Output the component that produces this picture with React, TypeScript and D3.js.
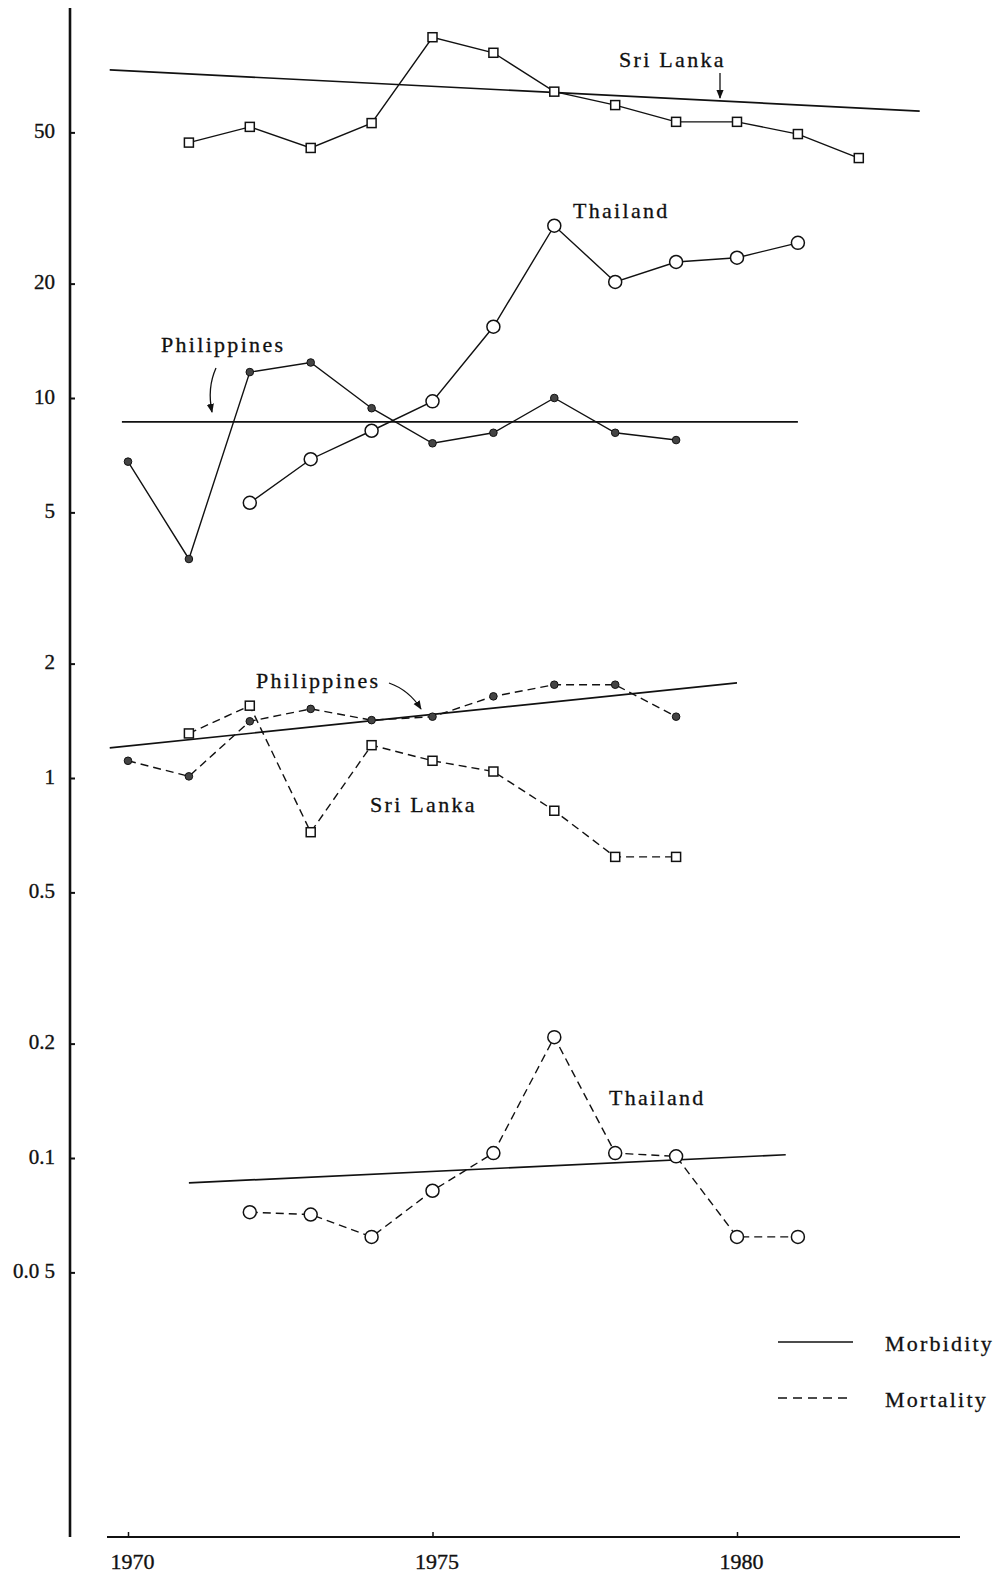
import React, { useEffect, useRef } from "react";
import * as d3 from "d3";

// morbidity (solid lines)
const sriLankaMorbYears = [1971, 1972, 1973, 1974, 1975, 1976, 1977, 1978, 1979, 1980, 1981, 1982];
const sriLankaMorb = [47, 51.7, 45.5, 52.9, 89, 81, 64, 59, 53.3, 53.3, 49.5, 42.8];

const thailandMorbYears = [1972, 1973, 1974, 1975, 1976, 1977, 1978, 1979, 1980, 1981];
const thailandMorb = [5.3, 6.9, 8.2, 9.8, 15.4, 28.4, 20.2, 22.8, 23.4, 25.6];

const philippinesMorbYears = [1970, 1971, 1972, 1973, 1974, 1975, 1976, 1977, 1978, 1979];
const philippinesMorb = [6.8, 3.77, 11.7, 12.4, 9.4, 7.6, 8.1, 10.0, 8.1, 7.75];

// mortality (dashed lines)
const philippinesMortYears = [1970, 1971, 1972, 1973, 1974, 1975, 1976, 1977, 1978, 1979];
const philippinesMort = [1.11, 1.01, 1.41, 1.52, 1.42, 1.45, 1.64, 1.76, 1.76, 1.45];

const sriLankaMortYears = [1971, 1972, 1973, 1974, 1975, 1976, 1977, 1978, 1979];
const sriLankaMort = [1.31, 1.55, 0.72, 1.22, 1.11, 1.04, 0.82, 0.62, 0.62];

const thailandMortYears = [1972, 1973, 1974, 1975, 1976, 1977, 1978, 1979, 1980, 1981];
const thailandMort = [0.072, 0.071, 0.062, 0.082, 0.103, 0.208, 0.103, 0.101, 0.062, 0.062];

// fitted trend lines (end points)
const sriLankaMorbTrendYears = [1969.7, 1983];
const sriLankaMorbTrend = [73, 56.9];
const philippinesMorbTrendYears = [1969.9, 1981];
const philippinesMorbTrend = [8.65, 8.65];
const philippinesMortTrendYears = [1969.7, 1980];
const philippinesMortTrend = [1.2, 1.78];
const thailandMortTrendYears = [1971, 1980.8];
const thailandMortTrend = [0.086, 0.102];

// axes
const yTicks = [50, 20, 10, 5, 2, 1, 0.5, 0.2, 0.1, 0.05];
const yTickLabels = ["50", "20", "10", "5", "2", "1", "0.5", "0.2", "0.1", "0.0 5"];
const xTicks = [1970, 1975, 1980];

const FONT = "'Liberation Serif', 'DejaVu Serif', serif";

const zip = (xs, ys) => xs.map((d, i) => [d, ys[i]]);

const App = () => {
  const svgRef = useRef(null);

  useEffect(() => {
    const svg = d3.select(svgRef.current);
    svg.selectAll("*").remove();

    const width = 1002;
    const height = 1581;

    svg.append("rect").attr("width", width).attr("height", height).attr("fill", "#fff");

    // scales
    const x = d3.scaleLinear().domain([1970, 1980]).range([128, 737]);
    const y = d3.scaleLog().domain([0.1, 10]).range([1158, 398]);

    const axisX = 70;
    const axisY = 1537;

    // y axis
    svg
      .append("line")
      .attr("x1", axisX)
      .attr("x2", axisX)
      .attr("y1", 8)
      .attr("y2", axisY)
      .attr("stroke", "#111")
      .attr("stroke-width", 2.6);

    const yAxis = d3
      .axisLeft(y)
      .tickValues(yTicks)
      .tickFormat((d, i) => yTickLabels[i])
      .tickSizeInner(-5)
      .tickSizeOuter(0)
      .tickPadding(15);
    const gy = svg.append("g").attr("transform", `translate(${axisX},0)`).call(yAxis);
    gy.select(".domain").remove();
    gy.selectAll(".tick line").attr("stroke", "#111").attr("stroke-width", 2);
    gy.selectAll(".tick text")
      .attr("font-family", FONT)
      .attr("font-size", 21)
      .attr("fill", "#111")
      .attr("stroke", "#111")
      .attr("stroke-width", 0.35)
      .attr("dy", "0.25em");

    // x axis
    svg
      .append("line")
      .attr("x1", 107)
      .attr("x2", 960)
      .attr("y1", axisY)
      .attr("y2", axisY)
      .attr("stroke", "#111")
      .attr("stroke-width", 2);

    const xAxis = d3
      .axisBottom(x)
      .tickValues(xTicks)
      .tickFormat(d3.format("d"))
      .tickSizeInner(-5)
      .tickSizeOuter(0)
      .tickPadding(16);
    const gx = svg.append("g").attr("transform", `translate(0,${axisY})`).call(xAxis);
    gx.select(".domain").remove();
    gx.selectAll(".tick line").attr("stroke", "#111").attr("stroke-width", 1.5);
    gx.selectAll(".tick text")
      .attr("font-family", FONT)
      .attr("font-size", 22)
      .attr("fill", "#111")
      .attr("stroke", "#111")
      .attr("stroke-width", 0.35)
      .attr("dx", 4);

    const line = d3
      .line()
      .x((d) => x(d[0]))
      .y((d) => y(d[1]));

    // trend lines
    const trends = [
      zip(sriLankaMorbTrendYears, sriLankaMorbTrend),
      zip(philippinesMorbTrendYears, philippinesMorbTrend),
      zip(philippinesMortTrendYears, philippinesMortTrend),
      zip(thailandMortTrendYears, thailandMortTrend),
    ];
    svg
      .selectAll(".trend")
      .data(trends)
      .join("path")
      .attr("class", "trend")
      .attr("d", line)
      .attr("fill", "none")
      .attr("stroke", "#111")
      .attr("stroke-width", 1.7);

    const series = [
      { pts: zip(sriLankaMorbYears, sriLankaMorb), marker: "square", dash: null },
      { pts: zip(thailandMorbYears, thailandMorb), marker: "circle", dash: null },
      { pts: zip(philippinesMorbYears, philippinesMorb), marker: "dot", dash: null },
      { pts: zip(philippinesMortYears, philippinesMort), marker: "dot", dash: "8,5" },
      { pts: zip(sriLankaMortYears, sriLankaMort), marker: "square", dash: "8,5" },
      { pts: zip(thailandMortYears, thailandMort), marker: "circle", dash: "8,5" },
    ];

    series.forEach((s) => {
      svg
        .append("path")
        .attr("d", line(s.pts))
        .attr("fill", "none")
        .attr("stroke", "#111")
        .attr("stroke-width", 1.4)
        .attr("stroke-dasharray", s.dash);
    });

    series.forEach((s) => {
      const g = svg.append("g");
      if (s.marker === "square") {
        g.selectAll("rect")
          .data(s.pts)
          .join("rect")
          .attr("x", (d) => x(d[0]) - 4.5)
          .attr("y", (d) => y(d[1]) - 4.5)
          .attr("width", 9)
          .attr("height", 9)
          .attr("fill", "#fff")
          .attr("stroke", "#111")
          .attr("stroke-width", 1.5);
      } else if (s.marker === "circle") {
        g.selectAll("circle")
          .data(s.pts)
          .join("circle")
          .attr("cx", (d) => x(d[0]))
          .attr("cy", (d) => y(d[1]))
          .attr("r", 6.5)
          .attr("fill", "#fff")
          .attr("stroke", "#111")
          .attr("stroke-width", 1.5);
      } else {
        g.selectAll("circle")
          .data(s.pts)
          .join("circle")
          .attr("cx", (d) => x(d[0]))
          .attr("cy", (d) => y(d[1]))
          .attr("r", 3.8)
          .attr("fill", "#444")
          .attr("stroke", "#111")
          .attr("stroke-width", 1);
      }
    });

    // arrowhead
    svg
      .append("defs")
      .append("marker")
      .attr("id", "arrow")
      .attr("viewBox", "0 0 10 10")
      .attr("refX", 9)
      .attr("refY", 5)
      .attr("markerWidth", 7)
      .attr("markerHeight", 7)
      .attr("orient", "auto")
      .append("path")
      .attr("d", "M0,1 L10,5 L0,9 Z")
      .attr("fill", "#111");

    // annotations
    const labels = [
      { text: "Sri Lanka", x: 619, y: 67 },
      { text: "Thailand", x: 573, y: 218 },
      { text: "Philippines", x: 161, y: 352 },
      { text: "Philippines", x: 256, y: 688 },
      { text: "Sri Lanka", x: 370, y: 812 },
      { text: "Thailand", x: 609, y: 1105 },
    ];
    svg
      .selectAll(".label")
      .data(labels)
      .join("text")
      .attr("class", "label")
      .attr("x", (d) => d.x)
      .attr("y", (d) => d.y)
      .attr("font-family", FONT)
      .attr("font-size", 22)
      .attr("letter-spacing", 2.3)
      .attr("fill", "#111")
      .attr("stroke", "#111")
      .attr("stroke-width", 0.3)
      .text((d) => d.text);

    const arrows = [
      "M720,73 L720,98",
      "M216,368 Q207,388 212,412",
      "M389,683 Q409,690 421,709",
    ];
    svg
      .selectAll(".arrow")
      .data(arrows)
      .join("path")
      .attr("class", "arrow")
      .attr("d", (d) => d)
      .attr("fill", "none")
      .attr("stroke", "#111")
      .attr("stroke-width", 1.3)
      .attr("marker-end", "url(#arrow)");

    // legend
    const legend = [
      { text: "Morbidity", dash: null, y: 1342 },
      { text: "Mortality", dash: "9,6", y: 1398 },
    ];
    const lg = svg.selectAll(".legend").data(legend).join("g").attr("class", "legend");
    lg.append("line")
      .attr("x1", 778)
      .attr("x2", 853)
      .attr("y1", (d) => d.y)
      .attr("y2", (d) => d.y)
      .attr("stroke", "#111")
      .attr("stroke-width", 1.4)
      .attr("stroke-dasharray", (d) => d.dash);
    lg.append("text")
      .attr("x", 885)
      .attr("y", (d) => d.y + 9)
      .attr("font-family", FONT)
      .attr("font-size", 22)
      .attr("letter-spacing", 2.2)
      .attr("fill", "#111")
      .attr("stroke", "#111")
      .attr("stroke-width", 0.3)
      .text((d) => d.text);
  }, []);

  return (
    <svg
      ref={svgRef}
      width={1002}
      height={1581}
      style={{ position: "absolute", left: 0, top: 0, display: "block" }}
    />
  );
};

export default App;
